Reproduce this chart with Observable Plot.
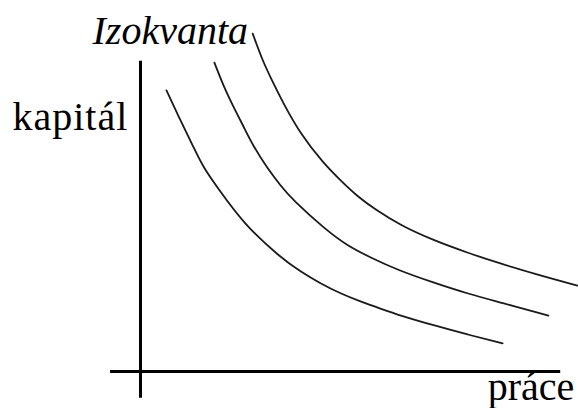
<!DOCTYPE html>
<html>
<head>
<meta charset="utf-8">
<script src="https://cdn.jsdelivr.net/npm/d3@7"></script>
<script src="https://cdn.jsdelivr.net/npm/@observablehq/plot@0.6"></script>
<style>
  html, body { margin: 0; padding: 0; background: #fff; }
  #chart { width: 578px; height: 408px; }
</style>
</head>
<body>
<div id="chart"></div>
<script>
// Isoquant curves: labour (práce) vs capital (kapitál), abstract units
const curve1Labour  = [0.59, 0.91, 1.20, 1.43, 1.75, 2.34, 3.18, 3.64, 4.09, 4.55, 5.00, 5.45, 5.91, 6.66, 7.43, 8.23];
const curve1Capital = [6.39, 5.70, 5.11, 4.63, 4.18, 3.36, 2.59, 2.27, 2.00, 1.77, 1.59, 1.43, 1.27, 1.05, 0.84, 0.64];

const curve2Labour  = [1.68, 1.89, 2.11, 2.34, 2.57, 2.89, 3.18, 3.45, 4.20, 4.70, 5.23, 5.86, 6.66, 7.43, 8.18, 9.27];
const curve2Capital = [7.02, 6.48, 6.02, 5.57, 5.11, 4.61, 4.23, 3.91, 3.23, 2.86, 2.59, 2.30, 2.02, 1.77, 1.57, 1.27];

const curve3Labour  = [2.55, 2.77, 3.02, 3.25, 3.64, 4.16, 4.55, 4.93, 5.34, 5.91, 6.66, 7.43, 8.18, 8.93, 9.93];
const curve3Capital = [7.68, 7.07, 6.55, 6.09, 5.39, 4.73, 4.34, 3.98, 3.68, 3.32, 2.98, 2.70, 2.45, 2.23, 1.95];

// axis extents (data units)
const xAxisExtent = [-0.68, 9.55];
const yAxisExtent = [-0.61, 7.05];

// labels
const labelTexts = ["kapitál", "Izokvanta", "práce"];
const labelX = [-2.91, -1.09, 7.89];
const labelY = [5.48, 7.45, -0.64];
const labelItalic = [false, true, false];

const curves = [
  [curve1Labour, curve1Capital],
  [curve2Labour, curve2Capital],
  [curve3Labour, curve3Capital]
].flatMap(([xs, ys], i) => xs.map((x, j) => ({curve: i, x, y: ys[j]})));

const labels = labelTexts.map((t, i) => ({label: t, x: labelX[i], y: labelY[i], italic: labelItalic[i]}));

const serif = "Liberation Serif";

const chart = Plot.plot({
  width: 578,
  height: 408,
  margin: 0,
  x: {domain: [0, 10], range: [140, 580], axis: null},
  y: {domain: [0, 7], range: [371, 63], axis: null},
  marks: [
    Plot.ruleY([0], {x1: xAxisExtent[0], x2: xAxisExtent[1], stroke: "#000", strokeWidth: 3}),
    Plot.ruleX([0], {y1: yAxisExtent[0], y2: yAxisExtent[1], stroke: "#000", strokeWidth: 3}),
    Plot.line(curves, {x: "x", y: "y", z: "curve", stroke: "#1a1a1a", strokeWidth: 1.8, curve: "basis"}),
    Plot.text(labels.filter(d => !d.italic), {x: "x", y: "y", text: "label", textAnchor: "start", lineAnchor: "bottom", fontSize: 40, fontFamily: serif, fill: "#000"}),
    Plot.text(labels.filter(d => d.italic), {x: "x", y: "y", text: "label", textAnchor: "start", lineAnchor: "bottom", fontSize: 40, fontFamily: serif, fontStyle: "italic", fill: "#000"})
  ]
});
d3.select(chart).selectAll("text").filter(function () { return this.textContent === "kapitál"; }).style("letter-spacing", "1px");
document.getElementById("chart").appendChild(chart);
</script>
</body>
</html>
